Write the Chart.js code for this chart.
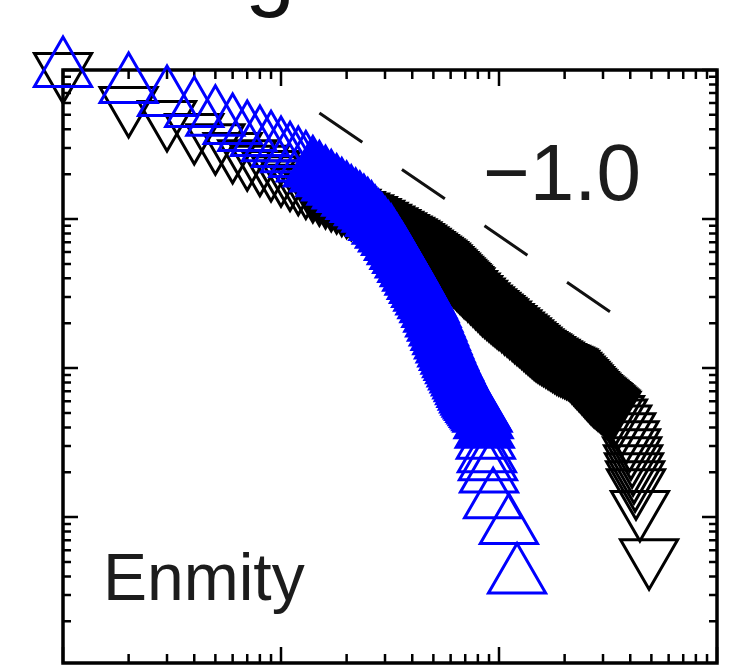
<!DOCTYPE html>
<html>
<head>
<meta charset="utf-8">
<title>Enmity</title>
<script src="https://cdn.jsdelivr.net/npm/chart.js@4.4.0/dist/chart.umd.min.js"></script>
<style>
  html, body { margin: 0; padding: 0; background: #fff; overflow: hidden; }
  canvas { display: block; }
</style>
</head>
<body>
<canvas id="myChart" width="736" height="666"></canvas>
<script>
// cumulative distributions (log-log)
var blueX = [1, 2, 3, 4, 5, 6, 7, 8, 9, 10,
    11, 12, 13, 14, 15, 16, 17, 18, 19, 20,
    21, 22, 23, 24, 25, 26, 27, 28, 29, 30,
    31, 32, 33, 34, 35, 36, 37, 38, 39, 40,
    41, 42, 43, 44, 45, 46, 47, 48, 49, 50,
    51, 52, 53, 54, 55, 56, 57, 58, 59, 60,
    61, 62, 63, 64, 65, 66, 67, 68, 69, 70,
    71, 72, 73, 74, 75, 76, 77, 78, 79, 80,
    81, 82, 83, 84, 85, 86, 87, 88, 89, 90, 94, 111, 121];
var blueY = [1, 0.78, 0.64, 0.54, 0.47, 0.414, 0.372, 0.344, 0.318, 0.290,
    0.268, 0.249, 0.232, 0.215, 0.199, 0.185, 0.173, 0.162, 0.153, 0.145,
    0.137, 0.130, 0.124, 0.118, 0.1125, 0.107, 0.100, 0.0942, 0.0887, 0.0834,
    0.0788, 0.0745, 0.069, 0.0646, 0.0602, 0.0564, 0.0528, 0.0492, 0.046, 0.043,
    0.0403, 0.0378, 0.0356, 0.0334, 0.0315, 0.0297, 0.0281, 0.0264, 0.0245, 0.0228,
    0.0212, 0.0198, 0.0184, 0.0172, 0.0161, 0.0151, 0.0142, 0.0133, 0.0126, 0.0119,
    0.0113, 0.0108, 0.0103, 0.0098, 0.00934, 0.00891, 0.00851, 0.00814, 0.00778, 0.00745,
    0.00713, 0.00684, 0.00655, 0.00632, 0.00614, 0.00597, 0.00582, 0.00566, 0.00552, 0.00537,
    0.00524, 0.00511, 0.00498, 0.00486, 0.0044, 0.0038, 0.0032, 0.0026, 0.0023, 0.0019, 0.00128, 0.00086, 0.0004];

var blackX = [1, 2, 3, 4, 5, 6, 7, 8, 9, 10,
    11, 12, 13, 14, 15, 16, 17, 18, 19, 20,
    21, 22, 23, 24, 25, 26, 27, 28, 29, 30,
    31, 32, 33, 34, 35, 36, 37, 38, 39, 40,
    41, 42, 43, 44, 45, 46, 47, 48, 49, 50,
    51, 52, 53, 54, 55, 56, 57, 58, 59, 60,
    61, 62, 63, 64, 65, 66, 67, 68, 69, 70,
    72, 74, 76, 78, 80, 82, 84, 86, 88, 90, 92, 94, 96, 98,
    100, 103, 106, 109, 112, 115, 118, 121, 124, 127, 130, 133, 136, 139, 142, 145, 148, 151, 154, 157, 160,
    164, 168, 172, 176, 180, 184, 188, 192, 196, 200, 204, 208, 212, 216, 220, 224, 228, 232, 236, 240, 244,
    248, 252, 256, 260, 264, 268, 272, 276, 280, 284, 288, 292, 296, 300, 304, 308, 312, 316, 320, 324, 328,
    340, 351, 367, 383, 397, 403, 408, 412, 416, 421, 425, 443, 488];
var blackY = [1, 0.592, 0.476, 0.390, 0.333, 0.290, 0.260, 0.239, 0.220, 0.203,
    0.190, 0.178, 0.168, 0.159, 0.151, 0.145, 0.139, 0.134, 0.129, 0.125,
    0.121, 0.117, 0.114, 0.111, 0.108, 0.105, 0.102, 0.0988, 0.0960, 0.0933,
    0.0908, 0.0884, 0.0861, 0.0841, 0.0820, 0.0801, 0.0783, 0.0766, 0.0749, 0.0733,
    0.0713, 0.0695, 0.0677, 0.0661, 0.0645, 0.0630, 0.0615, 0.0602, 0.0588, 0.0575,
    0.0563, 0.0552, 0.0540, 0.0526, 0.0512, 0.0499, 0.0486, 0.0474, 0.0462, 0.0451,
    0.0440, 0.0430, 0.0420, 0.0410, 0.0401, 0.0392, 0.0384, 0.0375, 0.0367, 0.0360,
    0.0345, 0.0331, 0.0319, 0.0307, 0.0296, 0.0285, 0.0275, 0.0268, 0.0260, 0.0253, 0.0246, 0.0240, 0.0234, 0.0228,
    0.02226, 0.02148, 0.02073, 0.02004, 0.01938, 0.01876, 0.01818, 0.01763, 0.01710, 0.01659, 0.01610,
    0.01563, 0.01519, 0.01477, 0.01437, 0.01399, 0.01368, 0.01343, 0.01318, 0.01295, 0.01272,
    0.01243, 0.01216, 0.01190, 0.01165, 0.01140, 0.01117, 0.01100, 0.01085, 0.01070, 0.01055, 0.01041,
    0.01028, 0.01004, 0.00975, 0.00947, 0.00921, 0.00896, 0.00871, 0.00848, 0.00825, 0.00803, 0.00782,
    0.00762, 0.00743, 0.00724, 0.00706, 0.00690, 0.00677, 0.00665, 0.00654, 0.00642, 0.00632, 0.00621,
    0.00611, 0.00601, 0.00590, 0.00580, 0.00570, 0.00561, 0.00552, 0.00543, 0.00534,
    0.0050, 0.00474, 0.00432, 0.00382, 0.00338, 0.00299, 0.00264, 0.00233, 0.00206, 0.00182, 0.00161, 0.00115, 0.000547];

// reference line with slope -1.0
var slopeX = [15, 323];
var slopeY = [0.515, 0.0239];

var xMajor = [1, 10, 100, 1000];
var yMajor = [0.0001, 0.001, 0.01, 0.1, 1];

function pairs(xs, ys) {
    return xs.map(function(x, i) { return {x: x, y: ys[i]}; });
}

// where the open markers pile up so tightly they read as a solid band
function bandFill(color, from, to) {
    return function(c) {
        var k = c.raw ? c.raw.x : 0;
        return k >= from && k <= to ? color : 'rgba(0,0,0,0)';
    };
}

// box with inward ticks on all four sides
var frame = {
    id: 'frame',
    beforeDatasetsDraw: function(chart) {
        var c = chart.ctx, a = chart.chartArea;
        var xs = chart.scales.x, ys = chart.scales.y;
        c.save();
        c.strokeStyle = '#000';
        c.lineWidth = 2.5;
        c.beginPath();
        xMajor.forEach(function(d) {
            for (var m = 1; m <= 9; m++) {
                var v = d * m;
                if (v < xs.min || v > xs.max) continue;
                var px = xs.getPixelForValue(v), len = m == 1 ? 16 : 9;
                c.moveTo(px, a.bottom); c.lineTo(px, a.bottom - len);
                c.moveTo(px, a.top); c.lineTo(px, a.top + len);
            }
        });
        yMajor.forEach(function(d) {
            for (var m = 1; m <= 9; m++) {
                var v = d * m;
                if (v < ys.min || v > ys.max) continue;
                var py = ys.getPixelForValue(v), len = m == 1 ? 15 : 8;
                c.moveTo(a.left, py); c.lineTo(a.left + len, py);
                c.moveTo(a.right, py); c.lineTo(a.right - len, py);
            }
        });
        c.stroke();
        c.lineWidth = 3.5;
        c.strokeRect(a.left, a.top, a.right - a.left, a.bottom - a.top);
        c.restore();
    },
    afterDraw: function(chart) {
        var c = chart.ctx;
        c.save();
        c.fillStyle = '#1c1c1c';
        c.textBaseline = 'alphabetic';
        c.font = '80px "Liberation Sans", Arial, sans-serif';
        c.fillText('\u22121.0', 483, 200);
        c.font = '66px "Liberation Sans", Arial, sans-serif';
        c.fillText('Enmity', 103, 600);
        // bottom of the cut-off heading above the panel
        c.fillStyle = '#111';
        c.font = '90px "Liberation Sans", Arial, sans-serif';
        c.fillText('g', 245, -1);
        c.restore();
    }
};

var ctx = document.getElementById('myChart').getContext('2d');
var chart = new Chart(ctx, {
    type: 'scatter',
    data: {
        datasets: [{
            label: 'slope',
            data: pairs(slopeX, slopeY),
            showLine: true,
            borderColor: '#111',
            borderWidth: 3,
            borderDash: [52, 48],
            pointRadius: 0,
            clip: false
        }, {
            label: 'blue',
            data: pairs(blueX, blueY),
            pointStyle: 'triangle',
            pointRadius: 33,
            pointBorderWidth: 3,
            pointBorderColor: '#0000ff',
            pointBackgroundColor: bandFill('#0000ff', 14, 86),
            clip: false
        }, {
            label: 'black',
            data: pairs(blackX, blackY),
            pointStyle: 'triangle',
            pointRotation: 180,
            pointRadius: 33,
            pointBorderWidth: 3,
            pointBorderColor: '#000',
            pointBackgroundColor: bandFill('#000', 14, 328),
            clip: false
        }]
    },
    options: {
        responsive: false,
        animation: false,
        events: [],
        layout: { autoPadding: false, padding: { left: 63, top: 70, right: 19, bottom: 3 } },
        plugins: { legend: { display: false }, tooltip: { enabled: false } },
        scales: {
            x: { type: 'logarithmic', min: 1, max: 1000, display: false },
            y: { type: 'logarithmic', min: 0.000105, max: 1, display: false }
        }
    },
    plugins: [frame]
});
</script>
</body>
</html>
